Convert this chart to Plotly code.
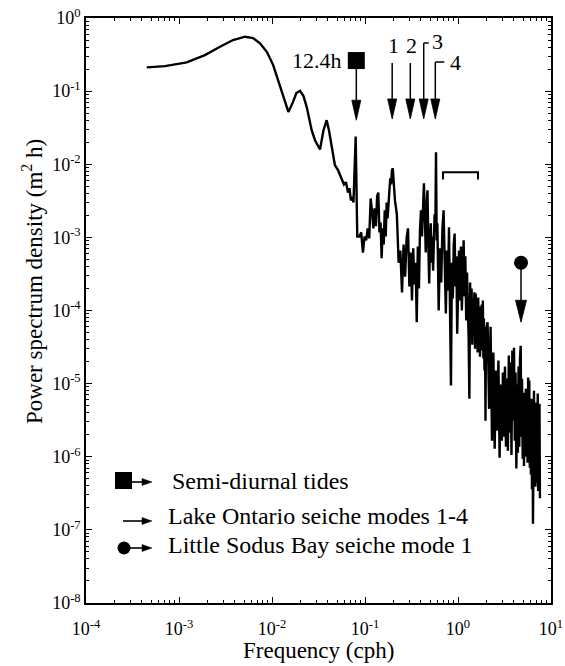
import numpy as np
import plotly.graph_objects as go

# ---------------- spectrum data ----------------
# smoothed low-frequency estimate (cph, m^2 h)
freq_smooth = [4.5e-4, 7.06e-4, 1.21e-3, 1.9e-3, 2.76e-3, 3.81e-3, 5.13e-3, 6.25e-3, 7.43e-3, 8.83e-3,
               0.0103, 0.0116, 0.0132, 0.0150, 0.0168, 0.0183, 0.0200, 0.0218, 0.0236, 0.0250,
               0.0267, 0.0290, 0.0328, 0.0358, 0.0387, 0.0410, 0.0439, 0.0475, 0.0513, 0.0538,
               0.0566, 0.0594, 0.0625, 0.0656, 0.0680, 0.0706, 0.0734, 0.0752, 0.0794, 0.0826]
psd_smooth = [0.211, 0.22, 0.247, 0.311, 0.404, 0.50, 0.555, 0.532, 0.45, 0.342,
              0.227, 0.142, 0.0836, 0.052, 0.0707, 0.094, 0.101, 0.0855, 0.061, 0.0427,
              0.0292, 0.0213, 0.0159, 0.0292, 0.040, 0.029, 0.0173, 9.7e-3, 8.3e-3, 7.1e-3,
              6.4e-3, 5.3e-3, 5.7e-3, 4.1e-3, 4.7e-3, 3.2e-3, 3.6e-3, 3.0e-3, 0.024, 1.03e-3]

# raw estimate, tidal band through the first seiche modes
freq_band1 = [0.087, 0.091, 0.095, 0.099, 0.103, 0.107, 0.111, 0.115, 0.119, 0.123,
              0.127, 0.131, 0.135, 0.139, 0.143, 0.147, 0.151, 0.155, 0.159, 0.163,
              0.167, 0.171, 0.175, 0.179, 0.183, 0.187, 0.191, 0.195, 0.199,
              0.21, 0.22, 0.23, 0.24, 0.25, 0.26, 0.27, 0.28, 0.29, 0.30,
              0.31, 0.32, 0.33, 0.34, 0.35, 0.36, 0.37, 0.38, 0.39, 0.40,
              0.41, 0.42, 0.43, 0.44, 0.45, 0.46, 0.47, 0.48, 0.49, 0.50,
              0.51, 0.52, 0.53, 0.54, 0.55, 0.56, 0.57, 0.58, 0.59, 0.60]
psd_band1 = [1.03e-3, 1.17e-3, 6.2e-4, 1.03e-3, 9.1e-4, 1.33e-3, 9.7e-4, 3.4e-3, 2.34e-3, 1.33e-3,
             2.5e-3, 1.42e-3, 3.65e-3, 4.1e-3, 1.17e-3, 1.6e-3, 5.2e-4, 1.33e-3, 8.0e-4, 2.34e-3,
             1.03e-3, 3.0e-3, 1.82e-3, 3.65e-3, 4.4e-3, 6.4e-3, 5.3e-3, 8.3e-3, 8.8e-3,
             3.2e-3, 2.07e-3, 4.5e-4, 6.6e-4, 1.77e-4, 8.0e-4, 2.9e-4, 9.7e-4, 1.33e-3, 2.13e-4,
             6.2e-4, 1.37e-4, 7.1e-4, 2.27e-4, 4.5e-4, 6.9e-5, 7.5e-4, 2.0e-4, 1.25e-3, 2.34e-3,
             1.03e-3, 3.65e-3, 5.5e-3, 2.07e-3, 6.2e-4, 2.66e-3, 4.4e-3, 7.5e-4, 2.34e-4, 9.1e-4,
             1.56e-3, 4.5e-4, 1.03e-3, 3.5e-4, 7.3e-4, 2.07e-3, 1.17e-3, 0.0146, 9.1e-4, 1.56e-3]

# raw estimate, 0.6 - 2 cph
freq_band2 = [0.62, 0.64, 0.66, 0.68, 0.70, 0.72, 0.74, 0.76, 0.78, 0.80,
              0.82, 0.84, 0.86, 0.88, 0.90, 0.92, 0.94, 0.96, 0.98, 1.00,
              1.025, 1.05, 1.075, 1.10, 1.125, 1.15, 1.175, 1.20, 1.225, 1.25,
              1.275, 1.30, 1.325, 1.35, 1.375, 1.40, 1.425, 1.45, 1.475, 1.50,
              1.525, 1.55, 1.575, 1.60, 1.625, 1.65, 1.675, 1.70, 1.725, 1.75,
              1.775, 1.80, 1.825, 1.85, 1.875, 1.90, 1.925, 1.95, 1.975, 2.00]
psd_band2 = [1.0e-4, 7.1e-4, 2.42e-4, 1.33e-3, 2.34e-3, 4.5e-4, 9.1e-5, 6.6e-4, 1.88e-4, 1.37e-3,
             1.37e-4, 9.4e-6, 4.5e-4, 1.46e-4, 8.0e-4, 1.13e-3, 2.13e-4, 5.5e-4, 4.8e-5, 3.5e-4,
             6.6e-4, 1.37e-4, 7.5e-4, 1.0e-4, 4.5e-4, 9.1e-4, 1.56e-4, 5.5e-4, 7.3e-5, 3.3e-4,
             1.1e-4, 4.4e-5, 6.2e-6, 2.42e-4, 5.3e-5, 2.0e-4, 3.4e-5, 1.46e-4, 4.4e-5, 1.77e-4,
             3.0e-5, 1.71e-4, 4.1e-5, 1.37e-4, 2.66e-5, 1.51e-4, 3.9e-5, 1.13e-4, 2.34e-5, 1.0e-4,
             3.2e-5, 1.21e-4, 2.83e-5, 1.37e-4, 2.2e-5, 7.8e-5, 1.51e-5, 6.0e-5, 3.1e-6, 5.3e-5]

# raw estimate, 2 cph up to Nyquist
freq_band3 = [2.08, 2.16, 2.24, 2.32, 2.40, 2.48, 2.56, 2.64, 2.72, 2.80,
              2.88, 2.96, 3.04, 3.12, 3.20, 3.28, 3.36, 3.44, 3.52, 3.60,
              3.68, 3.76, 3.84, 3.92, 4.00, 4.08, 4.16, 4.24, 4.32, 4.40,
              4.48, 4.56, 4.64, 4.72, 4.80, 4.88, 4.96, 5.04, 5.12, 5.20,
              5.28, 5.36, 5.44, 5.52, 5.60, 5.68, 5.76, 5.84, 5.92, 6.00,
              6.08, 6.16, 6.24, 6.32, 6.40, 6.48, 6.56, 6.64, 6.72, 6.80,
              6.88, 6.96, 7.04, 7.12, 7.20, 7.28, 7.36, 7.44, 7.52, 7.60]
psd_band3 = [6.9e-5, 4.5e-6, 6.0e-5, 1.66e-6, 2.66e-5, 1.29e-6, 1.51e-5, 2.27e-6, 2.07e-5, 9.7e-7,
             9.7e-6, 1.66e-6, 1.42e-5, 1.88e-6, 1.71e-5, 1.37e-6, 1.17e-5, 1.21e-6, 2.42e-5, 2.13e-6,
             1.94e-5, 1.06e-6, 2.83e-5, 3.1e-6, 3.1e-5, 1.66e-6, 1.42e-5, 6.9e-7, 9.7e-6, 1.13e-6,
             1.71e-5, 1.37e-6, 2.2e-5, 3.3e-5, 1.88e-6, 1.17e-5, 9.4e-7, 7.5e-6, 7.5e-7, 6.6e-6,
             1.46e-6, 8.5e-6, 1.0e-6, 5.2e-6, 8.3e-7, 1.21e-5, 1.21e-6, 1.1e-5, 7.1e-7, 4.5e-6,
             5.7e-7, 6.2e-6, 3.6e-7, 4.0e-6, 1.21e-7, 5.2e-6, 8.0e-6, 5.0e-7, 4.3e-6, 3.9e-7,
             5.5e-6, 6.4e-7, 3.8e-6, 4.4e-7, 7.3e-6, 3.4e-7, 3.1e-6, 5.3e-7, 5.3e-6, 2.7e-7]

# ---------------- marked frequencies ----------------
tide_freq = 1 / 12.4
tide_label = "12.4h"
seiche_freqs = [0.196, 0.307, 0.428, 0.57]
seiche_labels = ["1", "2", "3", "4"]
sodus_freq = 4.76
bracket_freqs = [0.69, 1.64]

legend_labels = ["Semi-diurnal tides",
                 "Lake Ontario seiche modes 1-4",
                 "Little Sodus Bay seiche mode 1"]

x_tickvals = [1e-4, 1e-3, 1e-2, 1e-1, 1e0, 1e1]
x_ticktext = ["10<sup>-4</sup>", "10<sup>-3</sup>", "10<sup>-2</sup>",
              "10<sup>-1</sup>", "10<sup>0</sup>", "10<sup>1</sup>"]
y_tickvals = [1e-8, 1e-7, 1e-6, 1e-5, 1e-4, 1e-3, 1e-2, 1e-1, 1e0]
y_ticktext = ["10<sup>-8</sup>", "10<sup>-7</sup>", "10<sup>-6</sup>", "10<sup>-5</sup>",
              "10<sup>-4</sup>", "10<sup>-3</sup>", "10<sup>-2</sup>", "10<sup>-1</sup>",
              "10<sup>0</sup>"]

# ---------------- layout geometry ----------------
W, H = 565, 666
ML, MR, MT, MB = 86, 14, 18, 63
PW, PH = W - ML - MR, H - MT - MB
X_RANGE = (-4, 1)
Y_RANGE = (-8, 0)
PX_PER_DEC_X = PW / (X_RANGE[1] - X_RANGE[0])
PX_PER_DEC_Y = PH / (Y_RANGE[1] - Y_RANGE[0])
FONT = "Liberation Serif"
INK = "black"


def nudge_f(f, px):
    """Move a frequency by px screen pixels to the right."""
    return f * 10 ** (px / PX_PER_DEC_X)


def nudge_p(p, px):
    """Move a spectral level by px screen pixels upward."""
    return p * 10 ** (px / PX_PER_DEC_Y)


def paper_x(px):
    return (px - ML) / PW


def paper_y(py):
    return (H - MB - py) / PH


def down_arrow(f, p_top, p_tip, head_len=20, head_half=4.5, width=1.5):
    """Vertical stem plus filled arrowhead pointing down to p_tip."""
    p_base = nudge_p(p_tip, head_len)
    stem = go.Scatter(x=[f, f], y=[p_top, p_base], mode="lines",
                      line=dict(color=INK, width=width), hoverinfo="skip")
    head = go.Scatter(x=[nudge_f(f, -head_half), f, nudge_f(f, head_half), nudge_f(f, -head_half)],
                      y=[p_base, p_tip, p_base, p_base], mode="lines", fill="toself",
                      fillcolor=INK, line=dict(color=INK, width=0.8), hoverinfo="skip")
    return [stem, head]


fig = go.Figure()

# spectrum curve
fig.add_trace(go.Scatter(
    x=freq_smooth + freq_band1 + freq_band2 + freq_band3,
    y=psd_smooth + psd_band1 + psd_band2 + psd_band3,
    mode="lines", line=dict(color=INK, width=2.4), hoverinfo="skip"))

# semi-diurnal tide marker
tide_mark_p, tide_tip_p = 0.262, 0.040
for tr in down_arrow(tide_freq, tide_mark_p, tide_tip_p):
    fig.add_trace(tr)
fig.add_trace(go.Scatter(x=[tide_freq], y=[tide_mark_p], mode="markers",
                         marker=dict(symbol="square", size=17, color=INK), hoverinfo="skip"))

# Lake Ontario seiche modes
seiche_top_p = [0.242, 0.242, 0.455, 0.25]
seiche_tip_p = 0.0416
seiche_hook_px = [0, 0, 5, 9]
for f, top, hook in zip(seiche_freqs, seiche_top_p, seiche_hook_px):
    for tr in down_arrow(f, top, seiche_tip_p):
        fig.add_trace(tr)
    if hook:
        fig.add_trace(go.Scatter(x=[f, nudge_f(f, hook)], y=[top, top], mode="lines",
                                 line=dict(color=INK, width=1.5), hoverinfo="skip"))

# Little Sodus Bay seiche marker
sodus_mark_p, sodus_tip_p = 4.5e-4, 6.9e-5
for tr in down_arrow(sodus_freq, sodus_mark_p, sodus_tip_p, head_len=22, head_half=5.5):
    fig.add_trace(tr)
fig.add_trace(go.Scatter(x=[sodus_freq], y=[sodus_mark_p], mode="markers",
                         marker=dict(symbol="circle", size=14, color=INK), hoverinfo="skip"))

# bracket over the 0.7-1.6 cph band
bracket_p, bracket_drop = 7.8e-3, 6.2e-3
fig.add_trace(go.Scatter(
    x=[bracket_freqs[0], bracket_freqs[0], bracket_freqs[1], bracket_freqs[1]],
    y=[bracket_drop, bracket_p, bracket_p, bracket_drop], mode="lines",
    line=dict(color=INK, width=2), hoverinfo="skip"))

annotations = []
text_font = dict(family=FONT, size=22, color=INK)
key_font = dict(family=FONT, size=24, color=INK)

annotations.append(dict(x=np.log10(tide_freq), y=np.log10(tide_mark_p), xref="x", yref="y",
                        text=tide_label, showarrow=False, xanchor="right", yanchor="middle",
                        xshift=-12, font=text_font))
label_shift = [(1, 18), (1, 18), (14, 2), (20, 0)]
for f, top, lab, (dx, dy) in zip(seiche_freqs, seiche_top_p, seiche_labels, label_shift):
    annotations.append(dict(x=np.log10(f), y=np.log10(top), xref="x", yref="y", text=lab,
                            showarrow=False, xanchor="center", yanchor="middle",
                            xshift=dx, yshift=dy, font=text_font))

# ---------------- key (bottom-left) ----------------
shapes = []
key_rows_y = [482, 521, 548]
key_text_x = [170, 166, 166]
key_text_y = [481, 516, 545]
head_x0, head_x1, head_half = 142, 152, 3.5


def key_arrow(x_start, y):
    shapes.append(dict(type="line", xref="paper", yref="paper",
                       x0=paper_x(x_start), x1=paper_x(head_x0 + 1), y0=paper_y(y), y1=paper_y(y),
                       line=dict(color=INK, width=1.6)))
    path = "M {} {} L {} {} L {} {} Z".format(
        paper_x(head_x0), paper_y(y - head_half), paper_x(head_x1), paper_y(y),
        paper_x(head_x0), paper_y(y + head_half))
    shapes.append(dict(type="path", xref="paper", yref="paper", path=path,
                       fillcolor=INK, line=dict(color=INK, width=0.5)))


shapes.append(dict(type="rect", xref="paper", yref="paper",
                   x0=paper_x(115), x1=paper_x(132), y0=paper_y(489), y1=paper_y(472),
                   fillcolor=INK, line=dict(width=0)))
key_arrow(132, key_rows_y[0])
key_arrow(123, key_rows_y[1])
shapes.append(dict(type="circle", xref="paper", yref="paper",
                   x0=paper_x(117.5), x1=paper_x(130.5), y0=paper_y(554.5), y1=paper_y(541.5),
                   fillcolor=INK, line=dict(width=0)))
key_arrow(130, key_rows_y[2])

for lab, tx, ty in zip(legend_labels, key_text_x, key_text_y):
    annotations.append(dict(x=paper_x(tx), y=paper_y(ty), xref="paper", yref="paper", text=lab,
                            showarrow=False, xanchor="left", yanchor="middle", font=key_font))

# axis titles
annotations.append(dict(x=paper_x(318), y=paper_y(650), xref="paper", yref="paper",
                        text="Frequency (cph)", showarrow=False, xanchor="center",
                        yanchor="middle", font=dict(family=FONT, size=23, color=INK)))
annotations.append(dict(x=paper_x(33), y=paper_y(282), xref="paper", yref="paper",
                        text="Power spectrum density (m<sup>2</sup> h)", showarrow=False,
                        textangle=-90, xanchor="center", yanchor="middle",
                        font=dict(family=FONT, size=23, color=INK)))

axis_common = dict(
    showgrid=False, zeroline=False, showline=True, linecolor=INK, linewidth=1.5,
    mirror="allticks", ticks="inside", ticklen=6, tickwidth=1.2, tickcolor=INK,
    tickfont=dict(family=FONT, size=18, color=INK), automargin=False,
    minor=dict(ticks="inside", ticklen=3, tickwidth=1, tickcolor=INK, dtick="D1", showgrid=False),
)

fig.update_xaxes(type="log", range=list(X_RANGE), tickmode="array", tickvals=x_tickvals,
                 ticktext=x_ticktext, ticklabelstandoff=9, **axis_common)
fig.update_yaxes(type="log", range=list(Y_RANGE), tickmode="array", tickvals=y_tickvals,
                 ticktext=y_ticktext, ticklabelstandoff=0, **axis_common)

fig.update_layout(
    width=W, height=H, margin=dict(l=ML, r=MR, t=MT, b=MB, autoexpand=False),
    paper_bgcolor="white", plot_bgcolor="white", showlegend=False,
    shapes=shapes, annotations=annotations,
    font=dict(family=FONT, color=INK),
)

fig.write_html("out.html")
